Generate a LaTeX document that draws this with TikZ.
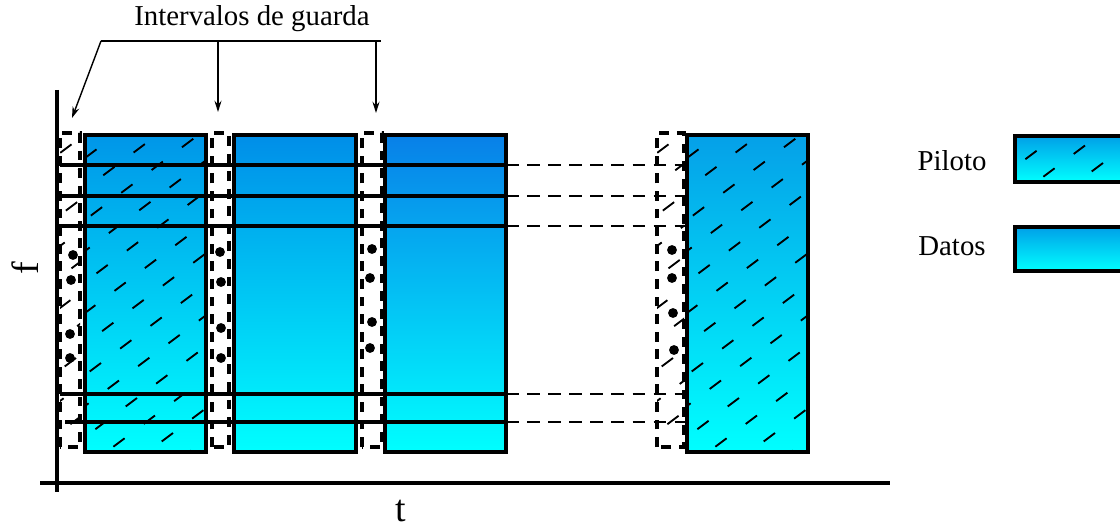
\documentclass[tikz,border=0pt]{standalone}
\usepackage{fontspec}
\setmainfont{Liberation Serif}
\usetikzlibrary{arrows.meta,fit,calc}
\definecolor{topA}{RGB}{0,150,232}
\definecolor{topB}{RGB}{0,142,232}
\definecolor{topC}{RGB}{8,128,232}
\definecolor{topD}{RGB}{5,160,232}
\definecolor{topL}{RGB}{0,160,232}
\tikzset{
  box/.style={inner sep=0pt, outer sep=0pt},
  border/.style={draw=black, line width=2.4pt},
  guardbox/.style={draw=black, line width=2.4pt, dash pattern=on 7pt off 5.5pt},
  hatch/.style={black, line width=1.3pt, dash pattern=on 10pt off 17pt},
  hline/.style={black, line width=2.4pt},
  dline/.style={black, line width=1.1pt, dash pattern=on 9pt off 6pt},
  axis/.style={black, line width=2.4pt},
  ptr/.style={black, line width=1pt},
  ptrarrow/.style={ptr, -{Stealth[length=8pt,width=5pt]}},
  dot/.style={circle, fill=black, inner sep=0pt, minimum size=7pt},
  lbl/.style={font=\fontsize{20.5}{23}\selectfont},
  axlbl/.style={font=\fontsize{27}{30}\selectfont},
}
\newcommand\hatchregion[1]{%
  \begin{scope}
    \clip (#1.south west) rectangle (#1.north east);
    \foreach \k in {-14,...,6}{
      \pgfmathsetmacro\ph{mod(\k*11+270,27)}
      \draw[hatch, dash phase=\ph pt] ($(#1.south west)+(-20,\k*31)$) -- ++(800,-600);
    }
  \end{scope}}
\begin{document}
\begin{tikzpicture}[x=0.025cm,y=-0.025cm]
\useasboundingbox (0,0) rectangle (1120,531);

% blocks
\node[box, fit={(85,135) (206,452)}, top color=topA, bottom color=cyan] (b1) {};
\node[box, fit={(234,135) (356,452)}, top color=topB, bottom color=cyan] (b2) {};
\node[box, fit={(385,135) (506,452)}, top color=topC, bottom color=cyan] (b3) {};
\node[box, fit={(687,135) (808,452)}, top color=topD, bottom color=cyan] (b4) {};
\hatchregion{b1}
\hatchregion{b4}
\foreach \b in {b1,b2,b3,b4} \draw[border] (\b.south west) rectangle (\b.north east);

% guard intervals
\node[box, fit={(60,133) (80,447)}] (g1) {};
\node[box, fit={(212,133) (229,447)}] (g2) {};
\node[box, fit={(362,133) (382,447)}] (g3) {};
\node[box, fit={(657,133) (684,447)}] (g4) {};
\hatchregion{g1}
\hatchregion{g4}
\foreach \g in {g1,g2,g3,g4} \draw[guardbox] (\g.south west) rectangle (\g.north east);

% dots
\foreach \p/\n in {{(73,255)}/d1, {(71,280)}/d2, {(70,334)}/d3, {(70,358)}/d4,
                   {(220,252)}/d5, {(221,282)}/d6, {(221,328)}/d7, {(221,358)}/d8,
                   {(372,249)}/d9, {(370,278)}/d10, {(372,322)}/d11, {(370,348)}/d12,
                   {(672,250)}/d13, {(672,278)}/d14, {(673,313)}/d15, {(674,350)}/d16}
  \node[dot] (\n) at \p {};

% horizontal lines
\foreach \y/\xs/\n in {165/60/1, 196/60/2, 226/57/3, 394/60/4, 422/65/5}{
  \coordinate (hs\n) at (\xs,\y);
  \coordinate (he\n) at (504,\y);
  \coordinate (ds\n) at (506,\y);
  \draw[hline] (hs\n) -- (he\n);
  \draw[dline] (ds\n) -- (ds\n -| b4.west);
}

% axes
\coordinate (ya) at (57,90);
\coordinate (yb) at (57,492);
\coordinate (xa) at (40,483);
\coordinate (xb) at (890,483);
\draw[axis] (ya) -- (yb);
\draw[axis] (xa) -- (xb);
\node[axlbl, anchor=base, rotate=90] (flab) at (38,268) {f};
\node[axlbl, anchor=base] (tlab) at (401,521) {t};

% guard interval pointers
\node[lbl, anchor=base] (title) at (252,26) {Intervalos de guarda};
\coordinate (br1) at (101,41);
\coordinate (br2) at (381,41);
\coordinate (a1) at (72,118);
\coordinate (a2) at (218,112);
\coordinate (a3) at (376,113);
\draw[ptr] (br1) -- (br2);
\draw[ptrarrow] (br1) -- (a1);
\draw[ptrarrow] (a2 |- br1) -- (a2);
\draw[ptrarrow] (a3 |- br1) -- (a3);

% legend
\node[box, fit={(1015,136) (1130,182)}, top color=topL, bottom color=cyan] (lp) {};
\hatchregion{lp}
\draw[border] (lp.south west) rectangle (lp.north east);
\node[box, fit={(1015,227) (1130,271)}, top color=topL, bottom color=cyan] (ld) {};
\draw[border] (ld.south west) rectangle (ld.north east);
\node[lbl] (lpt) at (952,161) {Piloto};
\node[lbl] (ldt) at (952,246) {Datos};
\end{tikzpicture}
\end{document}
